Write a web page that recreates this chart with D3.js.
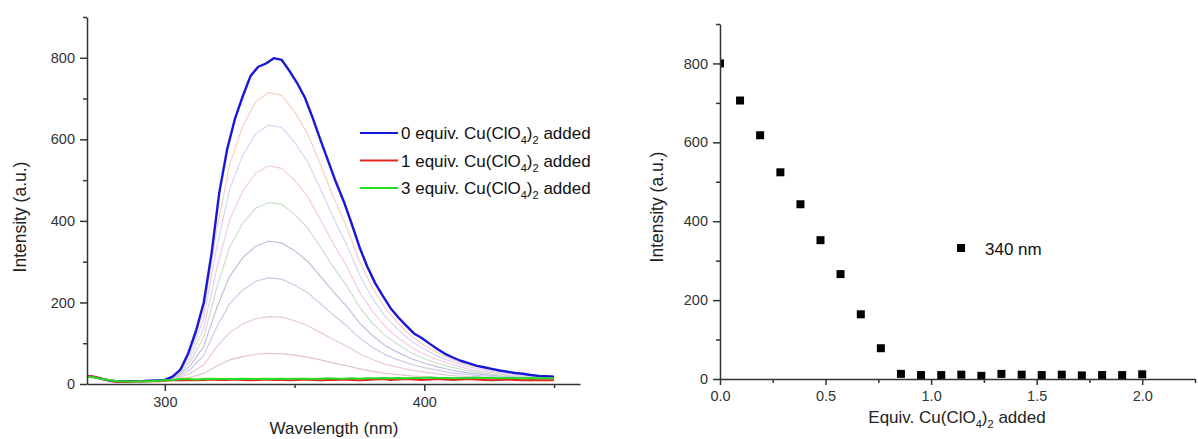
<!DOCTYPE html>
<html>
<head>
<meta charset="utf-8">
<script src="https://cdn.jsdelivr.net/npm/d3@7"></script>
<style>
  body { margin: 0; background: #fff; }
  svg { font-family: "Liberation Sans", Arial, sans-serif; }
  .axis path, .axis line { stroke: #333; stroke-width: 1.5; }
  .axis text { fill: #333; font-size: 14.5px; }
</style>
</head>
<body>
<svg id="chart" width="1198" height="439"></svg>
<script>
// emission spectra, 3 nm grid for the bold curves
const wlFine = d3.range(270, 451, 3);
const equiv0 = [20,17,12,8,6,6,7,7,8,9,
  10,18,35,75,130,200,320,470,575,650,
  705,755,778,786,799,795,768,738,702,652,
  598,546,494,447,393,336,288,248,216,186,
  163,143,124,113,99,86,74,65,57,51,
  45,41,37,33,30,27,25,22,20,19,18];
const equiv1 = [20,18,13,8,5,5,6,6,7,7,
  8,9,9,10,9,10,11,10,10,11,
  10,9,10,11,10,10,9,10,11,10,
  9,10,10,11,10,9,10,11,12,10,
  11,12,11,10,11,12,11,10,11,12,
  11,10,9,10,11,10,9,10,9,9,9];
const equiv3 = [18,16,12,9,7,6,6,7,7,8,
  9,10,12,12,11,12,13,12,12,12,
  13,12,12,13,12,13,12,13,13,12,
  13,14,13,13,14,13,14,14,15,14,
  15,14,15,15,16,15,15,14,15,15,
  16,15,15,14,15,15,14,15,14,14,14];

// intermediate titration spectra, 5 nm grid
const wlCoarse = d3.range(270, 451, 5);
const base = [20,14,7,6,7,8,10];
const mid1 = base.concat([28,86,180,377,538,632,692,715,708,668,614,538,458,386,301,236,185,149,117,95,77,62,50,41,35,30,25,22,19,17]);
const mid2 = base.concat([26,77,161,335,478,561,614,635,629,593,545,478,407,343,268,210,165,133,105,85,69,56,46,38,32,27,23,20,18,16]);
const mid3 = base.concat([23,67,137,283,403,473,517,535,529,500,460,403,343,290,226,178,140,113,90,73,60,49,40,33,29,25,21,19,17,15]);
const mid4 = base.concat([21,57,115,236,336,394,431,445,441,416,383,336,286,242,189,149,118,96,76,62,51,42,35,29,25,22,19,17,16,14]);
const mid5 = base.concat([19,47,92,187,264,310,338,350,346,327,301,264,226,191,150,119,94,77,62,51,42,35,29,25,22,19,17,16,14,13]);
const mid6 = base.concat([16,37,70,140,197,230,252,260,257,243,224,197,169,143,113,90,72,59,48,40,34,28,24,21,19,17,15,14,13,13]);
const mid7 = base.concat([14,27,47,91,126,147,160,165,164,155,143,126,109,93,74,60,48,41,34,29,25,21,19,17,16,14,13,13,12,12]);
const mid8 = base.concat([12,17,26,44,59,67,73,75,74,71,66,59,51,45,37,31,26,23,20,18,16,15,14,13,12,12,11,11,11,11]);
const midSeries = [mid1, mid2, mid3, mid4, mid5, mid6, mid7, mid8];
const midColors = ["#f7d0c0", "#d4d6f5", "#f4cbea", "#c8e2c8", "#c2bedd", "#d0cae9", "#ecc6da", "#e4c6c6"];

const legendLabels = ["0 equiv.", "1 equiv.", "3 equiv."];
const legendColors = ["#1717d9", "#e3261e", "#22dd22"];

// titration points at 340 nm
const equivAdded = [0, 0.095, 0.19, 0.286, 0.381, 0.476, 0.571, 0.667, 0.762, 0.857, 0.952,
  1.048, 1.143, 1.238, 1.333, 1.429, 1.524, 1.619, 1.714, 1.81, 1.905, 2.0];
const intensity340 = [800, 706, 618, 524, 443, 352, 266, 164, 78, 13, 10,
  10, 11, 8, 13, 11, 10, 11, 9, 10, 10, 12];

const svg = d3.select("#chart");

function cuLabel(textSel, prefix, suffix) {
  textSel.append("tspan").text(prefix + "Cu(ClO");
  textSel.append("tspan").attr("dy", 5).attr("font-size", "0.65em").text("4");
  textSel.append("tspan").attr("dy", -5).text(")");
  textSel.append("tspan").attr("dy", 5).attr("font-size", "0.65em").text("2");
  textSel.append("tspan").attr("dy", -5).text(suffix);
}

// — left panel: spectra —
(function() {
  const x = d3.scaleLinear().domain([270, 460]).range([87, 580]);
  const y = d3.scaleLinear().domain([0, 900]).range([384, 17]);

  const line = xs => d3.line()
    .x((d, i) => x(xs[i]))
    .y(d => y(d));

  midSeries.forEach((s, i) => {
    svg.append("path")
      .datum(s)
      .attr("fill", "none")
      .attr("stroke", midColors[i])
      .attr("stroke-width", 1.2)
      .attr("d", line(wlCoarse));
  });

  [equiv0, equiv1, equiv3].forEach((s, i) => {
    svg.append("path")
      .datum(s)
      .attr("fill", "none")
      .attr("stroke", legendColors[i])
      .attr("stroke-width", i === 0 ? 2.4 : 2)
      .attr("stroke-linejoin", "round")
      .attr("d", line(wlFine));
  });

  // axes
  svg.append("g").attr("class", "axis")
    .attr("transform", "translate(0,384)")
    .call(d3.axisBottom(x).tickValues([300, 400]).tickSize(7).tickSizeOuter(0).tickPadding(6));
  svg.append("g").attr("class", "axis")
    .attr("transform", "translate(0,384)")
    .call(d3.axisBottom(x).tickValues([350, 450]).tickSize(4).tickFormat(""))
    .select(".domain").remove();
  svg.append("g").attr("class", "axis")
    .attr("transform", "translate(87,0)")
    .call(d3.axisLeft(y).tickValues([0, 200, 400, 600, 800]).tickSize(7).tickSizeOuter(0).tickPadding(5));
  svg.append("g").attr("class", "axis")
    .attr("transform", "translate(87,0)")
    .call(d3.axisLeft(y).tickValues([100, 300, 500, 700, 900]).tickSize(4).tickFormat(""))
    .select(".domain").remove();

  svg.append("text")
    .attr("x", 334).attr("y", 434)
    .attr("text-anchor", "middle")
    .attr("font-size", 17).attr("fill", "#222")
    .text("Wavelength (nm)");
  svg.append("text")
    .attr("transform", "translate(26,217) rotate(-90)")
    .attr("text-anchor", "middle")
    .attr("font-size", 17.5).attr("fill", "#222")
    .text("Intensity (a.u.)");

  // legend
  legendLabels.forEach((lab, i) => {
    const ly = 133 + i * 27.5;
    svg.append("line")
      .attr("x1", 360).attr("x2", 398)
      .attr("y1", ly).attr("y2", ly)
      .attr("stroke", legendColors[i]).attr("stroke-width", 2);
    const t = svg.append("text")
      .attr("x", 401).attr("y", ly + 6)
      .attr("font-size", 17).attr("fill", "#111");
    cuLabel(t, lab.replace(".", ". "), " added");
  });
})();

// — right panel: intensity at 340 nm vs equivalents —
(function() {
  const x = d3.scaleLinear().domain([0, 2.25]).range([720, 1195]);
  const y = d3.scaleLinear().domain([0, 900]).range([379, 24]);

  svg.append("clipPath").attr("id", "plot2")
    .append("rect").attr("x", 720).attr("y", 20).attr("width", 480).attr("height", 365);

  const square = d3.symbol(d3.symbolSquare, 64);
  svg.append("g").attr("clip-path", "url(#plot2)")
    .selectAll("path")
    .data(intensity340)
    .enter().append("path")
      .attr("d", square)
      .attr("transform", (d, i) => `translate(${x(equivAdded[i])},${y(d)})`)
      .attr("fill", "#000");

  svg.append("g").attr("class", "axis")
    .attr("transform", "translate(0,379)")
    .call(d3.axisBottom(x).tickValues([0, 0.5, 1, 1.5, 2]).tickFormat(d3.format(".1f"))
      .tickSize(6).tickSizeOuter(0).tickPadding(6));
  svg.append("g").attr("class", "axis")
    .attr("transform", "translate(0,379)")
    .call(d3.axisBottom(x).tickValues([0.25, 0.75, 1.25, 1.75, 2.25]).tickSize(4).tickFormat(""))
    .select(".domain").remove();
  svg.append("g").attr("class", "axis")
    .attr("transform", "translate(720,0)")
    .call(d3.axisLeft(y).tickValues([0, 200, 400, 600, 800]).tickSize(7).tickSizeOuter(0).tickPadding(5));
  svg.append("g").attr("class", "axis")
    .attr("transform", "translate(720,0)")
    .call(d3.axisLeft(y).tickValues([100, 300, 500, 700, 900]).tickSize(4).tickFormat(""))
    .select(".domain").remove();

  const xl = svg.append("text")
    .attr("x", 957).attr("y", 423)
    .attr("text-anchor", "middle")
    .attr("font-size", 17).attr("fill", "#222");
  cuLabel(xl, "Equiv. ", " added");
  svg.append("text")
    .attr("transform", "translate(663,207) rotate(-90)")
    .attr("text-anchor", "middle")
    .attr("font-size", 17.5).attr("fill", "#222")
    .text("Intensity (a.u.)");

  // legend
  svg.append("path")
    .attr("d", square)
    .attr("transform", "translate(961,248)")
    .attr("fill", "#000");
  svg.append("text")
    .attr("x", 985).attr("y", 255)
    .attr("font-size", 17).attr("fill", "#111")
    .text("340 nm");
})();
</script>
</body>
</html>
